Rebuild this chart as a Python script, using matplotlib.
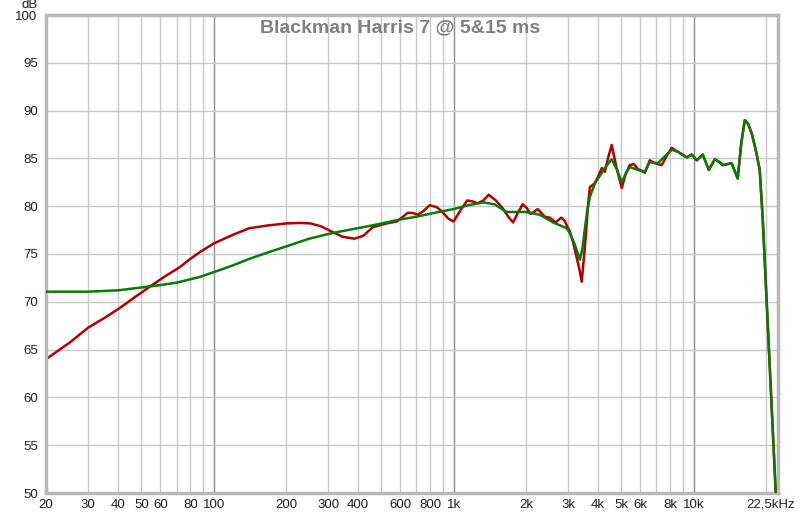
import numpy as np
import matplotlib
matplotlib.use("Agg")
import matplotlib.pyplot as plt
from matplotlib.ticker import FixedLocator, NullFormatter, FixedFormatter

plt.rcParams['font.family'] = ['Liberation Sans', 'DejaVu Sans']

# ---- data (Hz, dB) ----
red_f = [20, 25, 30, 35, 40.6, 47, 55, 63, 72, 80, 87.6, 100, 120, 141, 170, 201, 230,
         253, 280, 313, 345, 386, 420, 460, 526, 580, 615, 643, 675, 708, 750, 795,
         850, 900, 950, 1000, 1070, 1140, 1200, 1260, 1330, 1400, 1500, 1600, 1690,
         1770, 1860, 1942, 2020, 2090, 2160, 2240, 2400, 2520, 2660, 2810, 2900,
         3000, 3050, 3150, 3260, 3340, 3420, 3490, 3560, 3630, 3700, 3880, 4020,
         4150, 4270, 4420, 4560, 4780, 5020, 5220, 5420, 5640, 5860, 6270, 6570,
         6890, 7370, 7750, 8110, 8600]
red_db = [64.0, 65.7, 67.3, 68.3, 69.35, 70.5, 71.7, 72.7, 73.6, 74.5, 75.2, 76.1,
          77.0, 77.7, 78.0, 78.2, 78.25, 78.2, 77.9, 77.3, 76.8, 76.6, 76.9, 77.8,
          78.2, 78.4, 78.9, 79.3, 79.3, 79.1, 79.5, 80.1, 79.9, 79.4, 78.7, 78.4,
          79.6, 80.6, 80.5, 80.3, 80.6, 81.2, 80.6, 79.8, 78.9, 78.3, 79.4, 80.2,
          79.8, 79.2, 79.4, 79.7, 78.9, 78.8, 78.3, 78.8, 78.5, 77.7, 77.4, 76.2,
          74.6, 73.5, 72.1, 74.5, 77.0, 80.0, 82.0, 82.4, 83.2, 84.0, 83.6, 85.2,
          86.4, 84.0, 81.9, 83.4, 84.3, 84.4, 83.9, 83.5, 84.8, 84.5, 84.3, 85.3,
          86.1, 85.7]

green_f = [20, 30, 40, 50, 60, 70, 87.6, 100, 120, 141, 170, 201, 250, 313, 380, 460,
           597, 700, 830, 1000, 1150, 1330, 1480, 1660, 2000, 2290, 2600, 2960, 3050,
           3200, 3360, 3440, 3520, 3600, 3700, 3900, 4100, 4270, 4560, 4800, 5020,
           5220, 5420, 5860, 6270, 6570, 7100, 8110, 8600]
green_db = [71.06, 71.06, 71.2, 71.5, 71.75, 72.0, 72.6, 73.1, 73.8, 74.5, 75.2, 75.8,
            76.6, 77.2, 77.6, 78.0, 78.6, 78.9, 79.3, 79.7, 80.1, 80.4, 80.2, 79.4,
            79.4, 79.1, 78.3, 77.7, 77.2, 76.0, 74.4, 75.5, 77.5, 79.4, 81.0, 82.5,
            83.3, 84.0, 84.9, 83.8, 82.5, 83.4, 84.1, 83.8, 83.6, 84.6, 84.5, 85.9,
            85.7]

# both windows agree above ~9 kHz
high_f = [9380, 9830, 10320, 10930, 11580, 12270, 12860, 13240, 14420, 15280,
          15800, 16350, 16900, 17490, 18170, 18880, 19440, 22020]
high_db = [85.1, 85.4, 84.8, 85.4, 83.8, 84.9, 84.6, 84.3, 84.5, 82.9,
           86.5, 89.0, 88.6, 87.6, 85.9, 83.8, 78.6, 50.0]

x_ticks = [20, 30, 40, 50, 60, 80, 100, 200, 300, 400, 600, 800,
           1000, 2000, 3000, 4000, 5000, 6000, 8000, 10000]
x_labels = ['20', '30', '40', '50', '60', '80', '100', '200', '300', '400', '600', '800',
            '1k', '2k', '3k', '4k', '5k', '6k', '8k', '10k']
y_ticks = [50, 55, 60, 65, 70, 75, 80, 85, 90, 95, 100]

fig = plt.figure(figsize=(8, 5.14), dpi=100)
ax = fig.add_axes([46/800, 21/514, 732/800, 478/514])

ax.set_xscale('log')
ax.set_xlim(20, 22500)
ax.set_ylim(50, 100)

# grid: light lines every 1-2-3..., darker at decades
minor_grid = [m * d for d in (10, 100, 1000, 10000) for m in range(2, 10) if 20 <= m * d <= 22500]
for g in minor_grid:
    ax.axvline(g, color='#c8c8c8', lw=1.0, zorder=0)
for g in (100, 1000, 10000):
    ax.axvline(g, color='#8a8a8a', lw=1.0, zorder=0)
for g in y_ticks[1:-1]:
    ax.axhline(g, color='#c8c8c8', lw=1.0, zorder=0)

ax.plot(red_f + high_f, red_db + high_db, color='#b00000', lw=1.8, zorder=2,
        solid_joinstyle='round')
ax.plot(green_f + high_f, green_db + high_db, color='#0a780a', lw=1.8, zorder=3,
        solid_joinstyle='round')

ax.xaxis.set_major_locator(FixedLocator(x_ticks))
ax.xaxis.set_major_formatter(FixedFormatter(x_labels))
ax.xaxis.set_minor_formatter(NullFormatter())
ax.set_yticks(y_ticks)
ax.tick_params(axis='both', which='both', length=0, labelsize=9.5, colors='#202020', pad=4)
ax.tick_params(axis='y', pad=6)

for s in ax.spines.values():
    s.set_color('#b8b8b8')
    s.set_linewidth(2.5)

ax.text(-0.022, 1.008, 'dB', transform=ax.transAxes, ha='center', va='bottom',
        fontsize=9.5, color='#202020')
ax.text(21000, -0.012, '22,5kHz', transform=ax.get_xaxis_transform(), ha='center',
        va='top', fontsize=9.5, color='#202020')
ax.text(0.484, 0.974, 'Blackman Harris 7 @ 5&15 ms', transform=ax.transAxes,
        ha='center', va='center', fontsize=14, fontweight='bold', color='#808080')

fig.savefig('out.png', dpi=100)
